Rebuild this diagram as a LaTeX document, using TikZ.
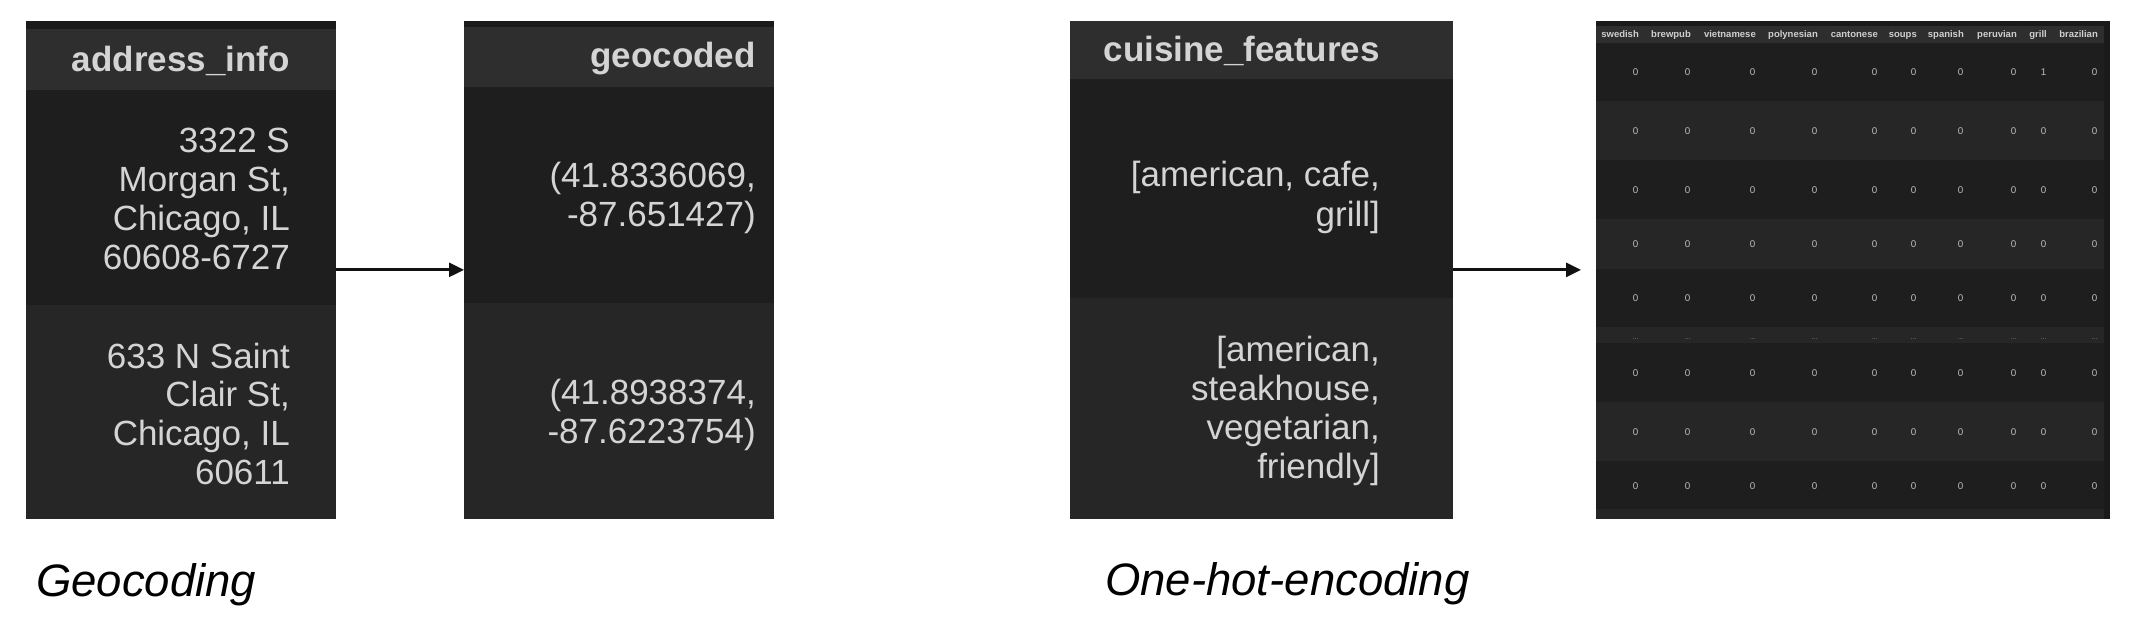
\documentclass[tikz,border=0pt]{standalone}
\usepackage{fontspec}
\setmainfont{Liberation Sans}
\usetikzlibrary{arrows.meta}
\definecolor{rowdark}{HTML}{1E1E1E}
\definecolor{rowlight}{HTML}{262626}
\definecolor{hdr}{HTML}{2E2E2E}
\definecolor{topstrip}{HTML}{1A1A1A}
\definecolor{celltext}{HTML}{D4D4D4}
\definecolor{ohtext}{HTML}{CFCFCF}
\definecolor{ohdigit}{HTML}{BDBDBD}
\definecolor{ohdots}{HTML}{8A8A8A}
\definecolor{arrowc}{HTML}{111111}
\begin{document}
\begin{tikzpicture}[x=1pt,y=-1pt,
  tbl/.style={inner sep=0pt, outer sep=0pt, anchor=north west, fill=rowdark},
  cell/.style={inner sep=0pt, anchor=base east, text=celltext, font=\fontsize{35}{39}\selectfont},
  head/.style={inner sep=0pt, anchor=base east, text=celltext, font=\fontsize{35}{39}\selectfont\bfseries},
  ohhead/.style={inner sep=0pt, anchor=base east, text=ohtext, font=\fontsize{9.5}{11}\selectfont\bfseries},
  ohcell/.style={inner sep=0pt, anchor=base east, text=ohdigit, font=\fontsize{9.8}{11}\selectfont},
  ohdot/.style={inner sep=0pt, anchor=base east, text=ohdots, font=\fontsize{7}{8}\selectfont},
  conn/.style={draw=arrowc, line width=2.7pt, -{Triangle[length=15pt,width=14pt]}},
  caption/.style={inner sep=0pt, anchor=base west, text=black, font=\fontsize{45.5}{50}\selectfont\itshape}
]
\useasboundingbox[fill=white] (0,0) rectangle (2134,628);

% ---------- address_info ----------
\node[tbl, minimum width=310pt, minimum height=498.3pt] (addr) at (26,20.7) {};
\fill[topstrip] (26,20.7) rectangle (336,29);
\fill[hdr] (26,29) rectangle (336,90);
\fill[rowlight] (26,305) rectangle (336,519);
\node[head] (addrh) at (290,71.5) {address\_info};
\foreach \t [count=\i] in {3322 S,{Morgan St,},{Chicago, IL},60608-6727}
  \node[cell] (addra\i) at (290,153+38.8*\i-38.8) {\t};
\foreach \t [count=\i] in {633 N Saint,{Clair St,},{Chicago, IL},60611}
  \node[cell] (addrb\i) at (290,368+38.7*\i-38.7) {\t};

% ---------- geocoded ----------
\node[tbl, minimum width=310pt, minimum height=498.3pt] (geo) at (464,20.7) {};
\fill[topstrip] (464,20.7) rectangle (774,27);
\fill[hdr] (464,27) rectangle (774,87.5);
\fill[rowlight] (464,303) rectangle (774,519);
\node[head] (geoh) at (756,68) {geocoded};
\node[cell] (geoa1) at (756,188) {(41.8336069,};
\node[cell] (geoa2) at (756,226.5) {-87.651427)};
\node[cell] (geob1) at (756,404) {(41.8938374,};
\node[cell] (geob2) at (756,443) {-87.6223754)};

% ---------- cuisine_features ----------
\node[tbl, minimum width=383pt, minimum height=498.3pt] (cuis) at (1070,20.7) {};
\fill[hdr] (1070,20.7) rectangle (1453,79);
\fill[rowlight] (1070,298) rectangle (1453,519);
\node[head] (cuish) at (1380,62) {cuisine\_features};
\node[cell] (cuisa1) at (1380,187) {[american, cafe,};
\node[cell] (cuisa2) at (1380,226.5) {grill]};
\foreach \t [count=\i] in {{[american,},{steakhouse,},{vegetarian,},{friendly]}}
  \node[cell] (cuisb\i) at (1380,361+39.2*\i-39.2) {\t};

% ---------- one-hot table ----------
\node[tbl, minimum width=514pt, minimum height=498.3pt, fill=topstrip] (oh) at (1596,20.7) {};
\fill[hdr] (1596,26) rectangle (2104,43);
\fill[rowdark] (1596,43) rectangle (2104,519);
\foreach \a/\b in {101/160, 219/269, 327/343, 402/461, 509/519}
  \fill[rowlight] (1596,\a) rectangle (2104,\b);
\foreach \x/\h [count=\c] in {1639/swedish, 1691/brewpub, 1756/vietnamese, 1818/polynesian, 1878/cantonese, 1917/soups, 1964/spanish, 2017/peruvian, 2047/grill, 2098/brazilian} {
  \node[ohhead] (ohh\c) at (\x,37.7) {\h};
  \foreach \y [count=\r] in {75.4,134.4,193.4,247.4,301.4,376.4,435.4,489.4}
    \node[ohcell] (ohv\c-\r) at (\x-0.5,\y) {\ifnum\c=9 \ifnum\r=1 1\else 0\fi\else 0\fi};
  \node[ohdot] (ohd\c) at (\x,339) {...};
}

% ---------- connectors ----------
\draw[conn] (addr) -- (geo);
\draw[conn, shorten >=15pt] (cuis) -- (oh);

% ---------- captions ----------
\node[caption] (cap1) at (36,596) {Geocoding};
\node[caption] (cap2) at (1105,595) {One-hot-encoding};
\end{tikzpicture}
\end{document}
